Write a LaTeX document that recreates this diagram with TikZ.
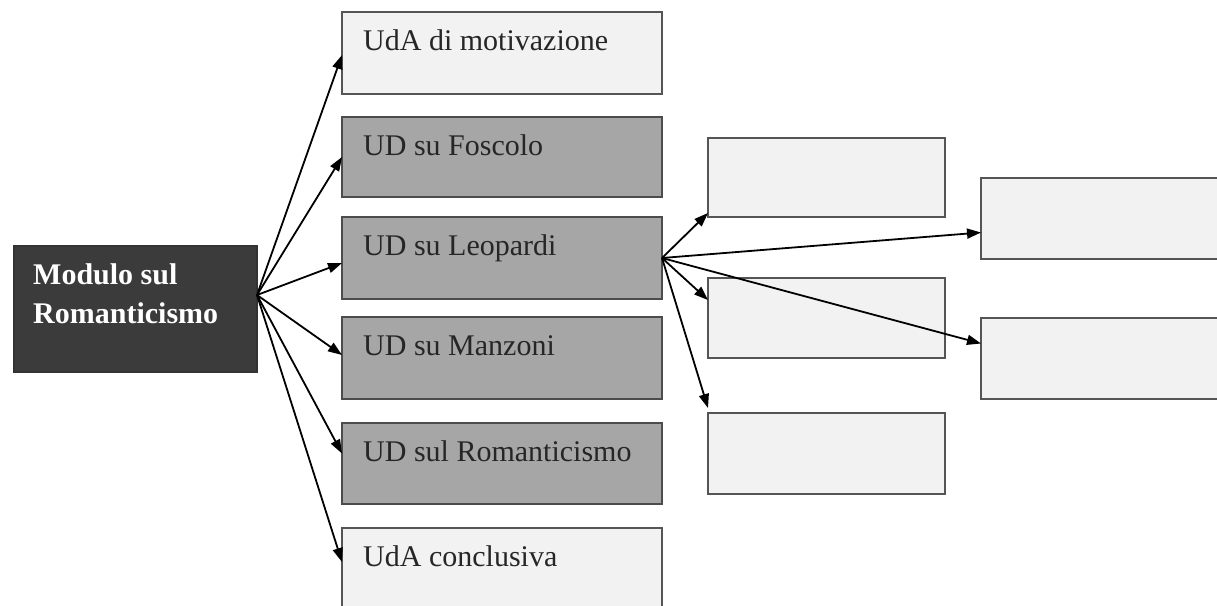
\documentclass[tikz,border=0pt]{standalone}
\usepackage{fontspec}
\setmainfont{Liberation Serif}
\usetikzlibrary{arrows.meta}
\definecolor{darkfill}{HTML}{3B3B3B}
\definecolor{midfill}{HTML}{A6A6A6}
\definecolor{lightfill}{HTML}{F2F2F2}
\definecolor{edgegray}{HTML}{555555}
\definecolor{inkgray}{HTML}{262626}
\tikzset{
  box/.style={draw=edgegray, line width=1.5pt, rectangle, inner sep=0pt, outer sep=0pt,
    anchor=north west},
  lightbox/.style={box, fill=lightfill},
  midbox/.style={box, fill=midfill, draw=black!70},
  darkbox/.style={box, fill=darkfill, draw=black!80},
  caption/.style={anchor=base west, inner sep=0pt, text=inkgray,
    font=\fontsize{30pt}{39pt}\selectfont},
  maincaption/.style={anchor=base west, inner sep=0pt, text=white,
    font=\fontsize{30pt}{39pt}\selectfont\bfseries},
  link/.style={draw=black, line width=1.8pt, -{Triangle[length=14pt,width=10pt]}}
}
\begin{document}
\begin{tikzpicture}[x=1pt,y=-1pt]
\useasboundingbox (0,0) rectangle (1217,605);
\clip (0,0) rectangle (1217,605);
\fill[white] (0,0) rectangle (1217,605);

% module box
\node[darkbox, minimum width=243pt, minimum height=126pt] (main) at (14,246) {};
\node[maincaption] (mainA) at (33,284) {Modulo sul};
\node[maincaption] (mainB) at (33,323) {Romanticismo};

% units
\node[lightbox, minimum width=320pt, minimum height=82pt] (m1) at (342,12) {};
\node[midbox,   minimum width=320pt, minimum height=80pt] (m2) at (342,117) {};
\node[midbox,   minimum width=320pt, minimum height=82pt] (m3) at (342,217) {};
\node[midbox,   minimum width=320pt, minimum height=82pt] (m4) at (342,317) {};
\node[midbox,   minimum width=320pt, minimum height=81pt] (m5) at (342,423) {};
\node[lightbox, minimum width=320pt, minimum height=90pt] (m6) at (342,528) {};

\node[caption] (t1) at (363,50)  {UdA di motivazione};
\node[caption] (t2) at (363,155) {UD su Foscolo};
\node[caption] (t3) at (363,255) {UD su Leopardi};
\node[caption] (t4) at (363,355) {UD su Manzoni};
\node[caption] (t5) at (363,461) {UD sul Romanticismo};
\node[caption] (t6) at (363,566) {UdA conclusiva};

% sub-units of Leopardi
\node[lightbox, minimum width=237pt, minimum height=79pt] (c1) at (708,138) {};
\node[lightbox, minimum width=237pt, minimum height=80pt] (c2) at (708,278) {};
\node[lightbox, minimum width=237pt, minimum height=81pt] (c3) at (708,413) {};
\node[lightbox, minimum width=260pt, minimum height=81pt] (d1) at (981,178) {};
\node[lightbox, minimum width=260pt, minimum height=81pt] (d2) at (981,318) {};

% connectors from the module
\coordinate (hub) at ([yshift=14pt]main.east);
\draw[link] (hub) -- ([yshift=-2pt]m1.west);
\draw[link] (hub) -- (m2.west);
\draw[link] (hub) -- ([yshift=-5pt]m3.west);
\draw[link] (hub) -- ([yshift=3pt]m4.west);
\draw[link] (hub) -- ([yshift=10pt]m5.west);
\draw[link] (hub) -- ([yshift=-34pt]m6.north west);

% connectors from Leopardi
\coordinate (leo) at (m3.east);
\draw[link] (leo) -- ([yshift=4pt]c1.south west);
\draw[link] (leo) -- ([yshift=-14pt]d1.west);
\draw[link] (leo) -- ([yshift=18pt]c2.west);
\draw[link] (leo) -- ([yshift=15pt]d2.west);
\draw[link] (leo) -- ([yshift=5pt]c3.north west);
\end{tikzpicture}
\end{document}
